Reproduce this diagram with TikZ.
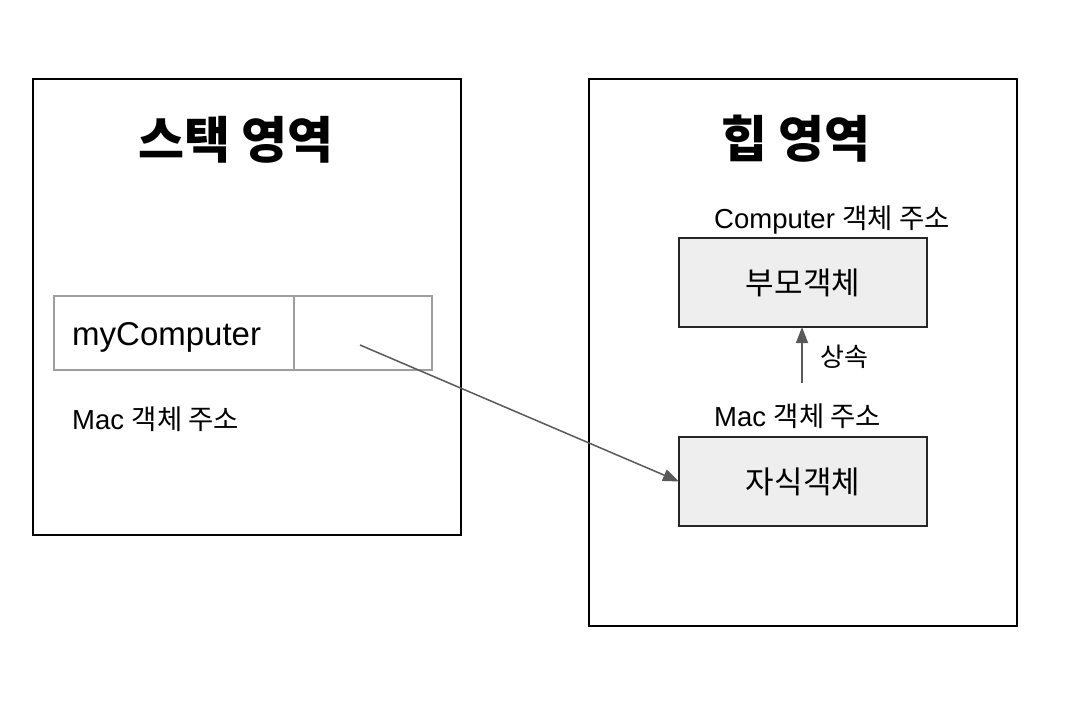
\documentclass[tikz,border=0pt]{standalone}
\usepackage{fontspec}
\setmainfont{Liberation Sans}
\newfontfamily\kr{Noto Sans CJK KR}
\usetikzlibrary{arrows.meta}
\newcommand{\ko}[1]{{\kr #1}}
\definecolor{arrowgray}{HTML}{595959}
\definecolor{cellgray}{HTML}{9E9E9E}
\definecolor{boxfill}{HTML}{EEEEEE}
\begin{document}
\begin{tikzpicture}[x=1pt,y=-1pt,
  region/.style={draw=black, line width=1.3pt, inner sep=0pt, outer sep=0pt, anchor=north west},
  titletext/.style={font=\kr\bfseries\fontsize{50}{56}\selectfont, inner sep=0pt},
  cell/.style={draw=cellgray, line width=1.8pt, inner sep=0pt, outer sep=0pt, anchor=north west, minimum height=74pt},
  objbox/.style={draw=black!85, line width=1.3pt, fill=boxfill, inner sep=0pt, outer sep=0pt, anchor=north west, minimum width=248pt, minimum height=89pt, font=\kr\fontsize{31}{36}\selectfont},
  lbl/.style={font=\fontsize{27.5}{32}\selectfont, inner sep=0pt, anchor=base west},
  ptr/.style={draw=arrowgray, line width=1.5pt, -{Triangle[length=16pt,width=12pt]}}
]
\useasboundingbox (0,0) rectangle (1072,716);
\fill[white] (0,0) rectangle (1072,716);

% regions
\node[region, minimum width=428pt, minimum height=456pt] (stack) at (33,79) {};
\node[region, minimum width=428pt, minimum height=547pt] (heap) at (589,79) {};

\node[titletext] (stacktitle) at (236,140) {스택 영역};
\node[titletext] (heaptitle) at (796,139) {힙 영역};

% stack table
\node[cell, minimum width=240pt] (namecell) at (54,296) {};
\node[cell, minimum width=138pt] (valcell) at (294,296) {};
\node[font=\fontsize{33}{38}\selectfont, inner sep=0pt, anchor=base west] (myc) at (72,345) {myComputer};
\node[lbl] (maclblL) at (72,429) {Mac \ko{객체 주소}};

% heap objects
\node[objbox] (parent) at (679,238) {부모객체};
\node[objbox] (child) at (679,437) {자식객체};
\node[lbl] (complbl) at (714,228) {Computer \ko{객체 주소}};
\node[lbl] (maclblR) at (714,426) {Mac \ko{객체 주소}};

% inheritance
\coordinate (inh) at (802,383);
\draw[ptr] (inh) -- (inh |- parent.south);
\node[font=\kr\fontsize{26}{30}\selectfont, inner sep=0pt, anchor=west] (inhlbl) at (820,357) {상속};

% pointer
\coordinate (p) at (360,345);
\draw[ptr] (p) -- (child.west);
\end{tikzpicture}
\end{document}
